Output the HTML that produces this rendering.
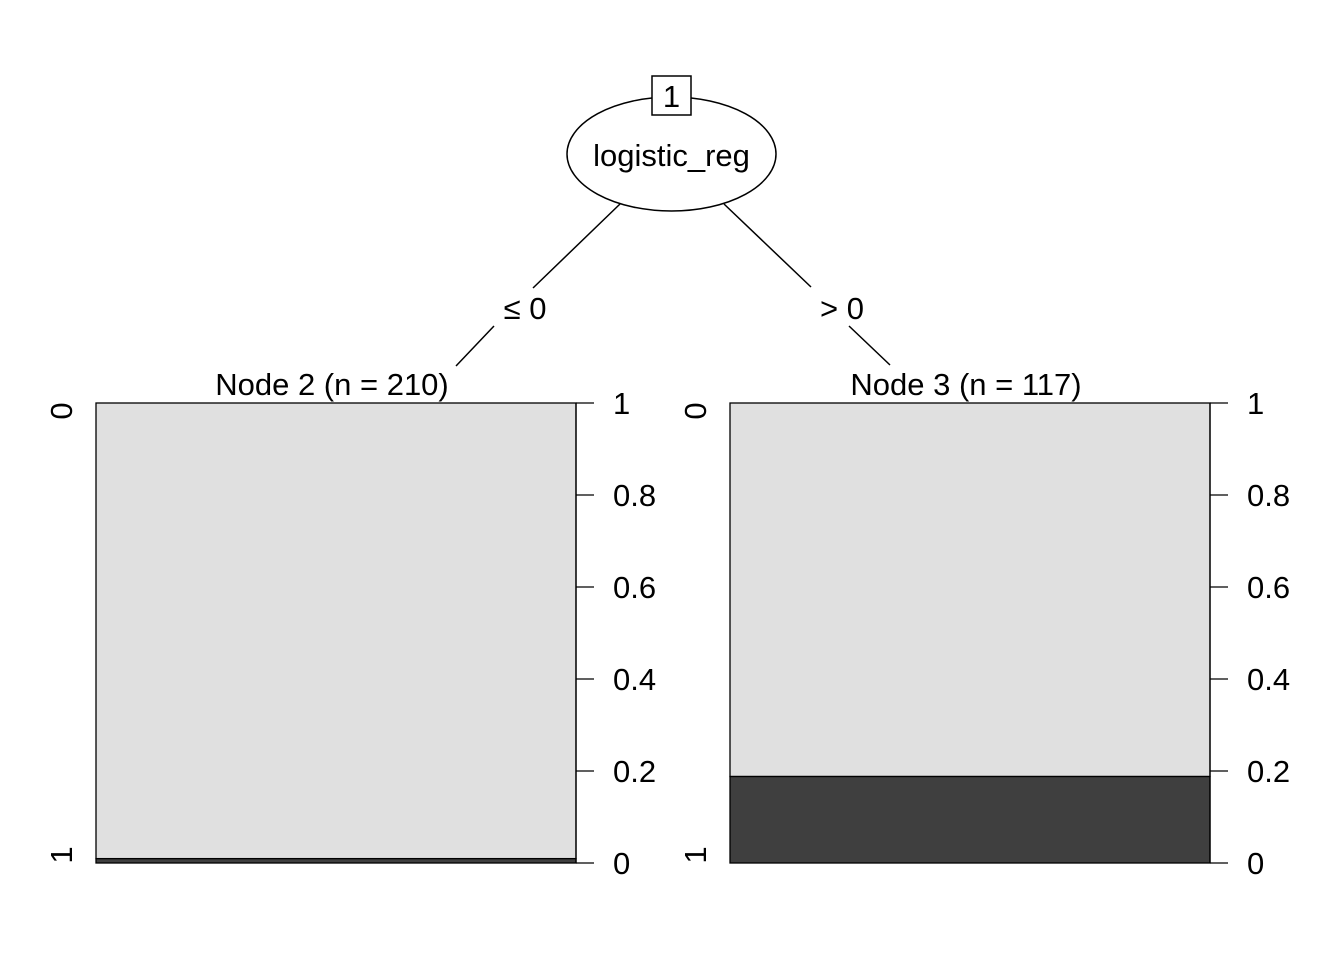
<!DOCTYPE html>
<html><head><meta charset="utf-8"><style>
body{margin:0;background:#fff;}
svg text{font-family:"Liberation Sans",sans-serif;fill:#000;}
</style></head><body>
<svg id="c" width="1344" height="960" viewBox="0 0 1344 960">
<g>
<line x1="620" y1="204" x2="533" y2="288" stroke="#000" stroke-width="1.5"/>
<line x1="456" y1="366" x2="494" y2="326" stroke="#000" stroke-width="1.5"/>
<line x1="724" y1="204" x2="811" y2="287" stroke="#000" stroke-width="1.5"/>
<line x1="849" y1="326" x2="890" y2="365" stroke="#000" stroke-width="1.5"/>
<ellipse cx="671.5" cy="154" rx="104.5" ry="57" fill="#fff" stroke="#000" stroke-width="1.5"/>
<text x="671.5" y="166" font-size="31" text-anchor="middle">logistic_reg</text>
<rect x="652" y="76" width="39" height="39" fill="#fff" stroke="#000" stroke-width="1.5"/>
<text x="671.5" y="107" font-size="31" text-anchor="middle">1</text>
<text x="525" y="319" font-size="31" text-anchor="middle">≤ 0</text>
<text x="842" y="319" font-size="31" text-anchor="middle">&gt; 0</text>
</g>
<g id="panels"></g>
</svg>
<script>
const nodeNames = ["Node 2 (n = 210)", "Node 3 (n = 117)"];
const class1Share = [0.0095, 0.188];
const tickValues = [0, 0.2, 0.4, 0.6, 0.8, 1];
const tickLabels = ["0", "0.2", "0.4", "0.6", "0.8", "1"];
const NS = "http://www.w3.org/2000/svg";
const g = document.getElementById("panels");
const left = [96, 730], W = 480, top0 = 403, bot = 863;
const y = v => bot - v * (bot - top0);
function mk(tag, attrs, parent, text){
  const e = document.createElementNS(NS, tag);
  for (const k in attrs) e.setAttribute(k, attrs[k]);
  if (text !== undefined) e.textContent = text;
  parent.appendChild(e); return e;
}
nodeNames.forEach((name, i) => {
  const x0 = left[i];
  const p = mk("g", {}, g);
  
  
  const t = mk("text", {x: x0 + W/2 - 4, y: 395, "font-size": 31, "text-anchor": "middle"}, p, name);
  
  
  const light = mk("rect", {x: x0, y: top0, width: W, height: y(class1Share[i]) - top0, fill: "#e0e0e0", stroke: "#000", "stroke-width": 1.3}, p);
  
  
  const dark = mk("rect", {x: x0, y: y(class1Share[i]), width: W, height: bot - y(class1Share[i]), fill: "#3f3f3f", stroke: "#000", "stroke-width": 1.3}, p);
  
  
  const ax = x0 + W;
  const axl = mk("line", {x1: ax, y1: top0, x2: ax, y2: bot, stroke: "#000", "stroke-width": 1.3}, p);
  
  
  tickValues.forEach((v, j) => {
    const tl = mk("line", {x1: ax, y1: y(v), x2: ax + 18, y2: y(v), stroke: "#000", "stroke-width": 1.3}, p);
    
    
    const lb = mk("text", {x: ax + 37, y: y(v) + 11, "font-size": 31, "text-anchor": "start"}, p, tickLabels[j]);
    
    
  });
  [["0", 411], ["1", 855]].forEach(([s, yy]) => {
    const c = mk("text", {x: 0, y: 0, "font-size": 31, "text-anchor": "middle", transform: `translate(${x0 - 24},${yy}) rotate(-90)`}, p, s);
    
    
  });
});
</script>
</body></html>
